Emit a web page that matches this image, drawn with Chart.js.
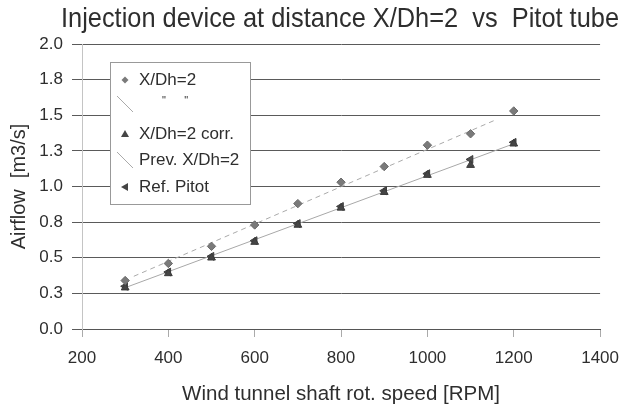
<!DOCTYPE html>
<html>
<head>
<meta charset="utf-8">
<script src="https://cdn.jsdelivr.net/npm/chart.js@4.4.1/dist/chart.umd.min.js"></script>
<style>
  html, body { margin: 0; padding: 0; background: #fff; }
  #wrap { width: 630px; height: 408px; }
</style>
</head>
<body>
<div id="wrap"><canvas id="grafica" width="630" height="408"></canvas></div>
<script>
// ---------------- datos ----------------
var rpm = [300, 400, 500, 600, 700, 800, 900, 1000, 1100, 1200];
var flowXdh2 = [0.34, 0.46, 0.58, 0.73, 0.88, 1.03, 1.14, 1.29, 1.37, 1.53];
var flowCorr = [0.29, 0.39, 0.50, 0.61, 0.73, 0.85, 0.96, 1.08, 1.15, 1.30];
var flowPitot = [0.30, 0.40, 0.51, 0.62, 0.74, 0.86, 0.97, 1.09, 1.19, 1.31];
// lineas (tendencia X/Dh=2 y medida previa)
var trendRpm = [320, 1160];
var trendFlow = [0.37, 1.47];
var prevRpm = [300, 1200];
var prevFlow = [0.29, 1.30];

var xTicks = [200, 400, 600, 800, 1000, 1200, 1400];
var yTickLabels = ['0.0', '0.3', '0.5', '0.8', '1.0', '1.3', '1.5', '1.8', '2.0'];

var labels = ['X/Dh=2', '"      "', 'X/Dh=2 corr.', 'Prev. X/Dh=2', 'Ref. Pitot'];
var titulo = 'Injection device at distance X/Dh=2  vs  Pitot tube';

var FONT = "'Liberation Sans', Arial, sans-serif";
var TEXT = '#2e2e2e';

function pares(xs, ys) {
    var out = [];
    for (var i = 0; i < xs.length; i++) out.push({x: xs[i], y: ys[i]});
    return out;
}

dibujar();
function dibujar()
{
    var c = document.getElementById("grafica");

    const data = {
        datasets: [
            {
                label: labels[0],
                data: pares(rpm, flowXdh2),
                pointStyle: 'rectRot',
                pointRadius: 4.2,
                backgroundColor: '#7a7a7a',
                borderColor: '#6a6a6a',
                borderWidth: 1,
                order: 1
            },
            {
                label: labels[1],
                data: pares(trendRpm, trendFlow),
                showLine: true,
                pointRadius: 0,
                borderColor: '#aaa',
                borderWidth: 1,
                borderDash: [5, 4],
                order: 3
            },
            {
                label: labels[2],
                data: pares(rpm, flowCorr),
                pointStyle: 'triangle',
                pointRadius: 4.5,
                backgroundColor: '#454545',
                borderColor: '#3a3a3a',
                borderWidth: 1,
                order: 1
            },
            {
                label: labels[3],
                data: pares(prevRpm, prevFlow),
                showLine: true,
                pointRadius: 0,
                borderColor: '#a8a8a8',
                borderWidth: 1,
                order: 3
            },
            {
                label: labels[4],
                data: pares(rpm, flowPitot),
                pointStyle: 'triangle',
                rotation: -90,
                pointRadius: 4.5,
                backgroundColor: '#505050',
                borderColor: '#3a3a3a',
                borderWidth: 1,
                order: 2
            }
        ]
    };

    // titulo y leyenda dibujados a mano
    const leyenda = {
        id: 'leyenda',
        afterDraw(chart) {
            var ctx = chart.ctx;
            ctx.save();

            // titulo (algo comprimido como en el original)
            ctx.fillStyle = TEXT;
            ctx.font = '28px ' + FONT;
            ctx.textAlign = 'center';
            ctx.textBaseline = 'middle';
            ctx.fillText(titulo, 340, 19, 558);
            ctx.textAlign = 'left';

            var bx = 110, by = 62, bw = 140, bh = 142;
            ctx.fillStyle = '#fff';
            ctx.fillRect(bx, by, bw, bh);
            ctx.strokeStyle = '#999';
            ctx.lineWidth = 1;
            ctx.strokeRect(bx + 0.5, by + 0.5, bw, bh);

            var rows = [80, 104, 134, 160, 187];
            var ix = 125, tx = 139;

            // rombo
            ctx.fillStyle = '#7a7a7a';
            ctx.beginPath();
            ctx.moveTo(ix, rows[0] - 3.5); ctx.lineTo(ix + 3.5, rows[0]);
            ctx.lineTo(ix, rows[0] + 3.5); ctx.lineTo(ix - 3.5, rows[0]);
            ctx.closePath(); ctx.fill();
            // lineas
            ctx.strokeStyle = '#aaa';
            ctx.beginPath();
            ctx.moveTo(117, rows[1] - 8); ctx.lineTo(133, rows[1] + 8);
            ctx.moveTo(117, rows[3] - 8); ctx.lineTo(133, rows[3] + 8);
            ctx.stroke();
            // triangulo
            ctx.fillStyle = '#454545';
            ctx.beginPath();
            ctx.moveTo(ix, rows[2] - 4); ctx.lineTo(ix + 4, rows[2] + 3); ctx.lineTo(ix - 4, rows[2] + 3);
            ctx.closePath(); ctx.fill();
            // triangulo izquierda
            ctx.beginPath();
            ctx.moveTo(ix - 4, rows[4]); ctx.lineTo(ix + 3, rows[4] - 4); ctx.lineTo(ix + 3, rows[4] + 4);
            ctx.closePath(); ctx.fill();

            ctx.fillStyle = TEXT;
            ctx.font = '17px ' + FONT;
            for (var i = 0; i < labels.length; i++) {
                if (i == 1) {
                    ctx.font = '11px ' + FONT;
                    ctx.fillText(labels[i], 162, rows[i] - 3);
                    ctx.font = '17px ' + FONT;
                } else {
                    ctx.fillText(labels[i], tx, rows[i]);
                }
            }
            ctx.restore();
        }
    };

    const config = {
        type: 'scatter',
        data: data,
        options: {
            responsive: false,
            animation: false,
            events: [],
            layout: { padding: { left: 0, right: 24, top: 44, bottom: 0 } },
            plugins: {
                legend: { display: false },
                tooltip: { enabled: false },
                title: { display: false }
            },
            scales: {
                x: {
                    type: 'linear',
                    min: 200,
                    max: 1400,
                    afterBuildTicks: function (s) { s.ticks = xTicks.map(function (v) { return {value: v}; }); },
                    afterFit: function (s) { s.height = 79; },
                    grid: { drawOnChartArea: false, drawTicks: true, tickLength: 8, color: '#aaa' },
                    border: { display: true, color: '#555' },
                    ticks: {
                        color: TEXT,
                        font: { family: FONT, size: 17 },
                        padding: 11,
                        maxRotation: 0,
                        callback: function (v) { return String(v); }
                    },
                    title: {
                        display: true,
                        text: 'Wind tunnel shaft rot. speed [RPM]',
                        color: TEXT,
                        font: { family: FONT, size: 20.5 },
                        padding: { top: 0, bottom: 1 }
                    }
                },
                y: {
                    min: 0,
                    max: 2,
                    ticks: {
                        stepSize: 0.25,
                        color: TEXT,
                        font: { family: FONT, size: 17 },
                        padding: 9,
                        callback: function (v, i) { return yTickLabels[i]; }
                    },
                    afterFit: function (s) { s.width = 82; },
                    grid: { color: '#5a5a5a', tickLength: 10, lineWidth: 1 },
                    border: { display: true, color: '#c4c4c4' },
                    title: {
                        display: true,
                        text: 'Airflow  [m3/s]',
                        color: TEXT,
                        font: { family: FONT, size: 20 },
                        padding: { top: 7, bottom: 0 }
                    }
                }
            }
        },
        plugins: [leyenda]
    };

    var chart = new Chart(c, config);
}
</script>
</body>
</html>
